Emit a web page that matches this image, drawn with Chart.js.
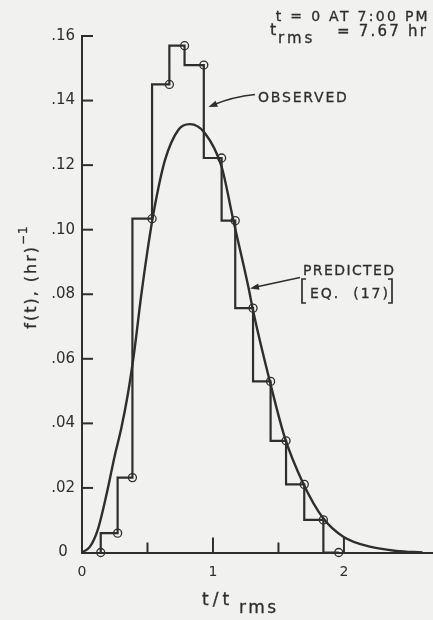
<!DOCTYPE html>
<html>
<head>
<meta charset="utf-8">
<script src="https://cdn.jsdelivr.net/npm/chart.js@4.4.0/dist/chart.umd.min.js"></script>
<style>
  html, body { margin: 0; padding: 0; background: #f1f1ef; }
  #wrap { width: 433px; height: 620px; position: relative; }
</style>
</head>
<body>
<div id="wrap"><canvas id="c" width="433" height="620"></canvas></div>
<script>
// ---- data (x = t / t_rms, y = f(t) in (hr)^-1) ----
const observedX = [0.143, 0.272, 0.385, 0.535, 0.667, 0.783, 0.93, 1.066, 1.17, 1.306, 1.44, 1.558, 1.697, 1.843, 1.96];
const observedY = [0, 0.0060, 0.0232, 0.1034, 0.1450, 0.1570, 0.1510, 0.1222, 0.1028, 0.0757, 0.0530, 0.0346, 0.0211, 0.0101, 0];

const predictedX = [0, 0.061, 0.12, 0.19, 0.25, 0.30, 0.35, 0.40, 0.45, 0.50, 0.55, 0.634, 0.735, 0.824, 0.939, 1.066, 1.155, 1.27, 1.308, 1.435, 1.55, 1.689, 1.842, 1.995, 2.198, 2.40, 2.60];
const predictedY = [0, 0.0018, 0.0070, 0.0185, 0.0300, 0.0385, 0.0490, 0.0625, 0.0790, 0.0935, 0.1060, 0.1216, 0.1309, 0.1327, 0.1299, 0.1195, 0.1030, 0.0823, 0.0746, 0.0529, 0.0354, 0.0214, 0.0106, 0.0049, 0.0018, 0.0005, 0];

const xTickValues = [0, 0.5, 1, 1.5, 2];
const xTickLabels = ['0', '', '1', '', '2'];
const yTickValues = [0, 0.02, 0.04, 0.06, 0.08, 0.10, 0.12, 0.14, 0.16];
const yTickLabels = ['0', '.02', '.04', '.06', '.08', '.10', '.12', '.14', '.16'];

// ---- styling ----
const INK = '#2e2e2e';
const BG = '#f1f1ef';
const FONT = '"DejaVu Sans", "Liberation Sans", sans-serif';

const bgPlugin = {
  id: 'bg',
  beforeDraw(chart) {
    const c = chart.ctx;
    c.save();
    c.fillStyle = BG;
    c.fillRect(0, 0, chart.width, chart.height);
    c.restore();
  }
};

function txt(c, s, x, y, size, spacing, align) {
  c.font = size + 'px ' + FONT;
  c.letterSpacing = (spacing || 0) + 'px';
  c.textAlign = align || 'left';
  c.fillText(s, x, y);
  c.lineWidth = 0.3;
  c.strokeText(s, x, y);
  return c.measureText(s).width;
}

function arrowHead(c, tipX, tipY, fromX, fromY, len, half) {
  const a = Math.atan2(tipY - fromY, tipX - fromX);
  c.beginPath();
  c.moveTo(tipX, tipY);
  c.lineTo(tipX - len * Math.cos(a) + half * Math.sin(a), tipY - len * Math.sin(a) - half * Math.cos(a));
  c.lineTo(tipX - len * Math.cos(a) - half * Math.sin(a), tipY - len * Math.sin(a) + half * Math.cos(a));
  c.closePath();
  c.fill();
}

const decoPlugin = {
  id: 'deco',
  afterDraw(chart) {
    const c = chart.ctx;
    const a = chart.chartArea;
    const xs = chart.scales.x, ys = chart.scales.y;
    c.save();
    c.strokeStyle = INK;
    c.fillStyle = INK;
    c.lineWidth = 2;
    c.lineCap = 'butt';

    // inward tick marks
    xTickValues.forEach(v => {
      if (v === 0) return;
      const px = xs.getPixelForValue(v);
      const len = Number.isInteger(v) ? 15 : 10;
      c.beginPath(); c.moveTo(px, a.bottom); c.lineTo(px, a.bottom - len); c.stroke();
    });
    yTickValues.forEach(v => {
      if (v === 0) return;
      const py = ys.getPixelForValue(v);
      c.beginPath(); c.moveTo(a.left, py); c.lineTo(a.left + 11, py); c.stroke();
    });

    c.textBaseline = 'alphabetic';

    // header annotation
    txt(c, 't = 0 AT 7:00 PM', 430, 21, 14, 2.3, 'right');
    txt(c, 't', 270, 35, 16, 0, 'left');
    txt(c, 'rms', 278, 43, 15, 3, 'left');
    txt(c, '= 7.67 hr', 428, 36, 15, 2.2, 'right');

    // OBSERVED label + arrow
    txt(c, 'OBSERVED', 258, 102, 14, 1.8, 'left');
    {
      const tx = xs.getPixelForValue(0.965), ty = ys.getPixelForValue(0.138);
      const sx = 255, sy = 94.5;
      c.lineWidth = 1.5;
      c.beginPath();
      c.moveTo(sx, sy);
      c.quadraticCurveTo(232, 97, tx + 6, ty - 2.5);
      c.stroke();
      arrowHead(c, tx, ty, tx + 10, ty - 4, 9, 3.2);
    }

    // PREDICTED label + arrow
    txt(c, 'PREDICTED', 303, 275, 14, 1.4, 'left');
    txt(c, 'EQ.  (17)', 310, 298, 14, 2.0, 'left');
    c.lineWidth = 1.7;
    c.beginPath();
    c.moveTo(306, 279); c.lineTo(302, 279); c.lineTo(302, 303); c.lineTo(306, 303);
    c.moveTo(388, 279); c.lineTo(392, 279); c.lineTo(392, 303); c.lineTo(388, 303);
    c.stroke();
    {
      const tx = xs.getPixelForValue(1.283), ty = ys.getPixelForValue(0.0818);
      const sx = 300, sy = 277.5;
      c.lineWidth = 1.5;
      c.beginPath();
      c.moveTo(sx, sy);
      c.lineTo(tx + 7, ty - 1.6);
      c.stroke();
      arrowHead(c, tx, ty, sx, sy, 9, 3.2);
    }

    // x-axis title: t / t_rms
    txt(c, 't/t', 202, 605, 17, 4, 'left');
    txt(c, 'rms', 239, 613, 17, 2.5, 'left');

    // y-axis title: f(t), (hr)^-1 (rotated)
    c.font = '16px ' + FONT;
    c.letterSpacing = '2px';
    const main = 'f(t), (hr)';
    const mw = c.measureText(main).width;
    c.font = '12px ' + FONT;
    c.letterSpacing = '1px';
    const sup = '\u2212' + '1';
    const sw = c.measureText(sup).width;
    const total = mw + sw;
    c.translate(36, 277 + total / 2);
    c.rotate(-Math.PI / 2);
    txt(c, main, 0, 0, 16, 2, 'left');
    txt(c, sup, mw, -9, 12, 1, 'left');

    c.restore();
  }
};

const ctx = document.getElementById('c').getContext('2d');
new Chart(ctx, {
  type: 'line',
  data: {
    datasets: [
      {
        label: 'Observed',
        data: observedX.map((x, i) => ({ x: x, y: observedY[i] })),
        stepped: 'after',
        borderColor: INK,
        borderWidth: 2.2,
        pointRadius: 4,
        pointBorderWidth: 1.3,
        pointBorderColor: INK,
        pointBackgroundColor: 'rgba(0,0,0,0)',
        fill: false,
        clip: false
      },
      {
        label: 'Predicted',
        data: predictedX.map((x, i) => ({ x: x, y: predictedY[i] })),
        borderColor: INK,
        borderWidth: 2.4,
        pointRadius: 0,
        cubicInterpolationMode: 'monotone',
        fill: false,
        clip: false
      }
    ]
  },
  options: {
    responsive: false,
    animation: false,
    devicePixelRatio: 1,
    layout: { padding: { top: 36, left: 0, right: 0, bottom: 0 }, autoPadding: false },
    plugins: { legend: { display: false }, tooltip: { enabled: false } },
    scales: {
      x: {
        type: 'linear',
        min: 0,
        max: 2.68,
        afterBuildTicks: s => { s.ticks = xTickValues.map(v => ({ value: v })); },
        afterFit: s => { s.height = 67.5; },
        ticks: {
          callback: (v, i) => xTickLabels[i],
          color: INK,
          font: { family: FONT, size: 14 },
          padding: 11,
          maxRotation: 0,
          autoSkip: false
        },
        grid: { drawOnChartArea: false, drawTicks: false },
        border: { display: true, color: INK, width: 2 }
      },
      y: {
        type: 'linear',
        min: 0,
        max: 0.16,
        afterBuildTicks: s => { s.ticks = yTickValues.map(v => ({ value: v })); },
        afterFit: s => { s.width = 82; },
        ticks: {
          callback: (v, i) => yTickLabels[i],
          color: INK,
          font: { family: FONT, size: 15 },
          padding: 7,
          crossAlign: 'center',
          autoSkip: false
        },
        grid: { drawOnChartArea: false, drawTicks: false },
        border: { display: true, color: INK, width: 2 }
      }
    }
  },
  plugins: [bgPlugin, decoPlugin]
});
</script>
</body>
</html>
